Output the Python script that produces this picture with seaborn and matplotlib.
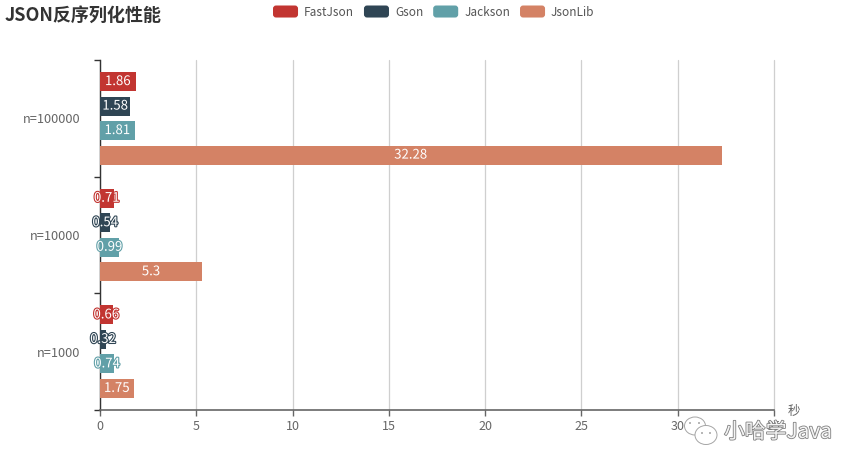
import matplotlib
matplotlib.use("Agg")
import matplotlib.pyplot as plt
import matplotlib.patheffects as pe
from matplotlib.legend_handler import HandlerPatch
from matplotlib.patches import Ellipse, FancyBboxPatch, Patch
import pandas as pd
import seaborn as sns

W, H = 860, 470

categories = ["n=100000", "n=10000", "n=1000"]
series_names = ["FastJson", "Gson", "Jackson", "JsonLib"]
fastjson = [1.86, 0.71, 0.66]
gson = [1.58, 0.54, 0.32]
jackson = [1.81, 0.99, 0.74]
jsonlib = [32.28, 5.3, 1.75]
colors = ["#c23531", "#2f4554", "#61a0a8", "#d48265"]
x_ticks = [0, 5, 10, 15, 20, 25, 30, 35]

df = pd.DataFrame({
    "category": categories * 4,
    "series": [s for s in series_names for _ in categories],
    "value": fastjson + gson + jackson + jsonlib,
})

sns.set_style("white")
plt.rcParams["font.family"] = ["Noto Sans CJK SC", "DejaVu Sans"]


def fx(x):
    return x / W


def fy(y):
    return 1 - y / H


class RoundedHandle(HandlerPatch):
    def create_artists(self, legend, orig_handle, xdescent, ydescent, width, height, fontsize, trans):
        box = FancyBboxPatch((-xdescent, -ydescent), width, height,
                             boxstyle="round,pad=0,rounding_size=2.2",
                             facecolor=orig_handle.get_facecolor(), edgecolor="none", transform=trans)
        return [box]


fig = plt.figure(figsize=(W / 100, H / 100), dpi=100, facecolor="white")
ax = fig.add_axes([fx(100), fy(410), (774 - 100) / W, (410 - 60) / H])

sns.barplot(data=df, y="category", x="value", hue="series", order=categories,
            hue_order=series_names, palette=colors, orient="h", width=0.84, gap=0.23,
            saturation=1, legend=False, ax=ax, zorder=3, linewidth=0, edgecolor="none")

# === value labels: white with a stroke in the series colour ===
for container, color in zip(ax.containers, colors):
    texts = ax.bar_label(container, fmt="%g", label_type="center", color="white", fontsize=9.5, zorder=4)
    for t in texts:
        t.set_path_effects([pe.withStroke(linewidth=1.6, foreground=color)])
        t.set_clip_on(False)

ax.set_xlim(0, 35)
ax.set_ylim(2.5, -0.5)
ax.set_xticks(x_ticks)
ax.set_xlabel("")
ax.set_ylabel("")
ax.grid(axis="x", color="#cfcfcf", linewidth=0.9, clip_on=False)
ax.grid(axis="y", visible=False)
ax.set_axisbelow(True)

ax.set_yticks([0, 1, 2])
ax.set_yticklabels(categories)
ax.set_yticks([-0.5, 0.5, 1.5, 2.5], minor=True)
ax.tick_params(axis="y", which="major", left=False, length=0, pad=14, labelsize=9.2, labelcolor="#666666")
ax.tick_params(axis="y", which="minor", left=True, length=4, width=1, color="#333333")
ax.tick_params(axis="x", bottom=True, length=4, width=1, color="#666666", labelsize=9,
               labelcolor="#666666", pad=3)

for side in ["top", "right"]:
    ax.spines[side].set_visible(False)
ax.spines["left"].set_color("#333333")
ax.spines["bottom"].set_color("#666666")
ax.spines["left"].set_linewidth(1)
ax.spines["bottom"].set_linewidth(1.2)

# === title, legend, axis name ===
fig.text(fx(5), fy(15), "JSON反序列化性能", fontsize=13, fontweight="bold", color="#333333",
         ha="left", va="center")

handles = [Patch(facecolor=c, label=s) for c, s in zip(colors, series_names)]
fig.legend(handles=handles, loc="center left", bbox_to_anchor=(fx(273), fy(12)), ncol=4, frameon=False,
           handler_map={Patch: RoundedHandle()}, fontsize=8.5, labelcolor="#555555",
           handlelength=2.12, handleheight=1.19, handletextpad=0.5, columnspacing=0.85,
           borderpad=0, borderaxespad=0)

fig.text(fx(794), fy(411), "秒", fontsize=9, color="#666666", ha="center", va="center")

# === watermark over the bottom right corner ===
wm_edge = "#a5a5a5"
for cx, cy, w, h in [(695, 426, 21, 18), (706, 435, 22, 19)]:
    fig.add_artist(Ellipse((cx, H - cy), w, h, transform=None, facecolor="white", edgecolor=wm_edge,
                           linewidth=0.7, zorder=5))
for cx, cy in [(690, 423), (699, 423), (702, 433), (710, 433)]:
    fig.add_artist(Ellipse((cx, H - cy), 2, 2, transform=None, facecolor=wm_edge, edgecolor="none", zorder=6))
fig.text(fx(724), fy(432), "小哈学Java", fontsize=15, color="#f4f4f4", ha="left", va="center", zorder=6,
         path_effects=[pe.withStroke(linewidth=1.2, foreground="#808080")])

fig.savefig("out.png", dpi=100)
plt.close(fig)
